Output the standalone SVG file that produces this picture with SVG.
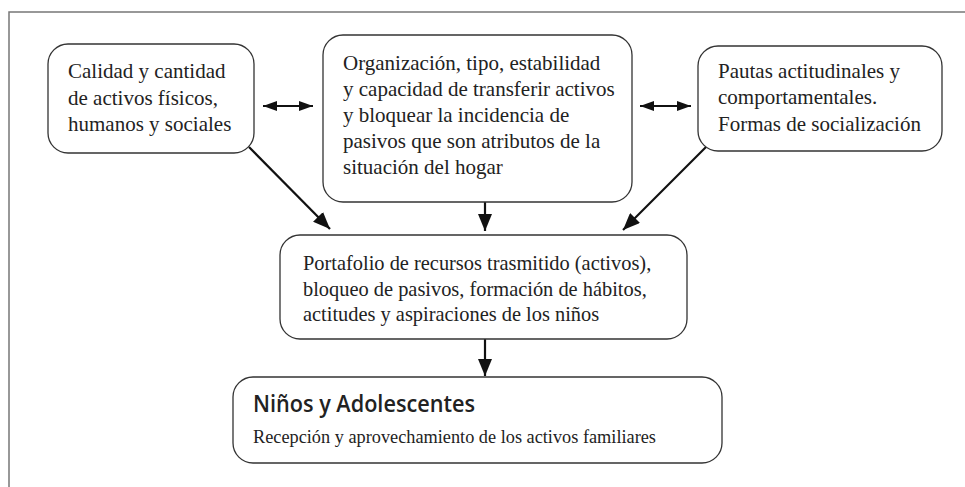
<svg xmlns="http://www.w3.org/2000/svg" width="965" height="487" viewBox="0 0 965 487">
<style>
.box{fill:#fff;stroke:#333;stroke-width:1.3}
.t{font-family:"Liberation Serif",serif;font-size:21px;fill:#222}
.t2{font-family:"Liberation Serif",serif;font-size:20.4px;fill:#222}
.s{font-family:"Liberation Serif",serif;font-size:18.5px;fill:#222}
.h{font-family:"Open Sans","Liberation Sans",sans-serif;font-weight:600;font-size:23px;fill:#222}
.c{stroke:#111;stroke-width:2.2;fill:none}
</style>
<defs>
<marker id="ah" markerUnits="userSpaceOnUse" markerWidth="17" markerHeight="14" refX="17" refY="7" orient="auto-start-reverse"><path d="M0,0 L17,7 L0,14 z" fill="#111"/></marker>
<marker id="ahs" markerUnits="userSpaceOnUse" markerWidth="14" markerHeight="10" refX="14" refY="5" orient="auto-start-reverse"><path d="M0,0 L14,5 L0,10 z" fill="#111"/></marker>
</defs>
<path d="M9,487 L9,12 L965,12" fill="none" stroke="#777" stroke-width="1.5"/>
<g id="connectors">
<line class="c" x1="263" y1="106" x2="313" y2="106" marker-start="url(#ahs)" marker-end="url(#ahs)"/>
<line class="c" x1="640" y1="106" x2="691" y2="106" marker-start="url(#ahs)" marker-end="url(#ahs)"/>
<line class="c" x1="249" y1="147" x2="330" y2="229" marker-end="url(#ah)"/>
<line class="c" x1="706" y1="147" x2="623" y2="230" marker-end="url(#ah)"/>
<line class="c" x1="485" y1="202" x2="485" y2="231" marker-end="url(#ah)"/>
<line class="c" x1="485" y1="339" x2="485" y2="376" marker-end="url(#ah)"/>
</g>
<g id="n1">
<rect class="box" x="48" y="44" width="206" height="109" rx="20"/>
<text class="t" x="68" y="78">Calidad y cantidad</text>
<text class="t" x="68" y="104.5">de activos físicos,</text>
<text class="t" x="68" y="131">humanos y sociales</text>
</g>
<g id="n2">
<rect class="box" x="323" y="35" width="309" height="167" rx="20"/>
<text class="t" x="343" y="70">Organización, tipo, estabilidad</text>
<text class="t" x="343" y="96">y capacidad de transferir activos</text>
<text class="t" x="343" y="122">y bloquear la incidencia de</text>
<text class="t" x="343" y="148">pasivos que son atributos de la</text>
<text class="t" x="343" y="174">situación del hogar</text>
</g>
<g id="n3">
<rect class="box" x="698" y="46" width="244" height="105" rx="20"/>
<text class="t" x="718" y="77.5">Pautas actitudinales y</text>
<text class="t" x="718" y="104">comportamentales.</text>
<text class="t" x="718" y="130.5">Formas de socialización</text>
</g>
<g id="n4">
<rect class="box" x="280" y="235" width="407" height="104" rx="20"/>
<text class="t2" x="303" y="269.5">Portafolio de recursos trasmitido (activos),</text>
<text class="t2" x="303" y="295.5">bloqueo de pasivos, formación de hábitos,</text>
<text class="t2" x="303" y="321">actitudes y aspiraciones de los niños</text>
</g>
<g id="n5">
<rect class="box" x="233" y="377" width="489" height="86" rx="20"/>
<text class="h" x="253" y="412" textLength="222" lengthAdjust="spacingAndGlyphs">Niños y Adolescentes</text>
<text class="s" x="253" y="443" textLength="403" lengthAdjust="spacingAndGlyphs">Recepción y aprovechamiento de los activos familiares</text>
</g>
</svg>
